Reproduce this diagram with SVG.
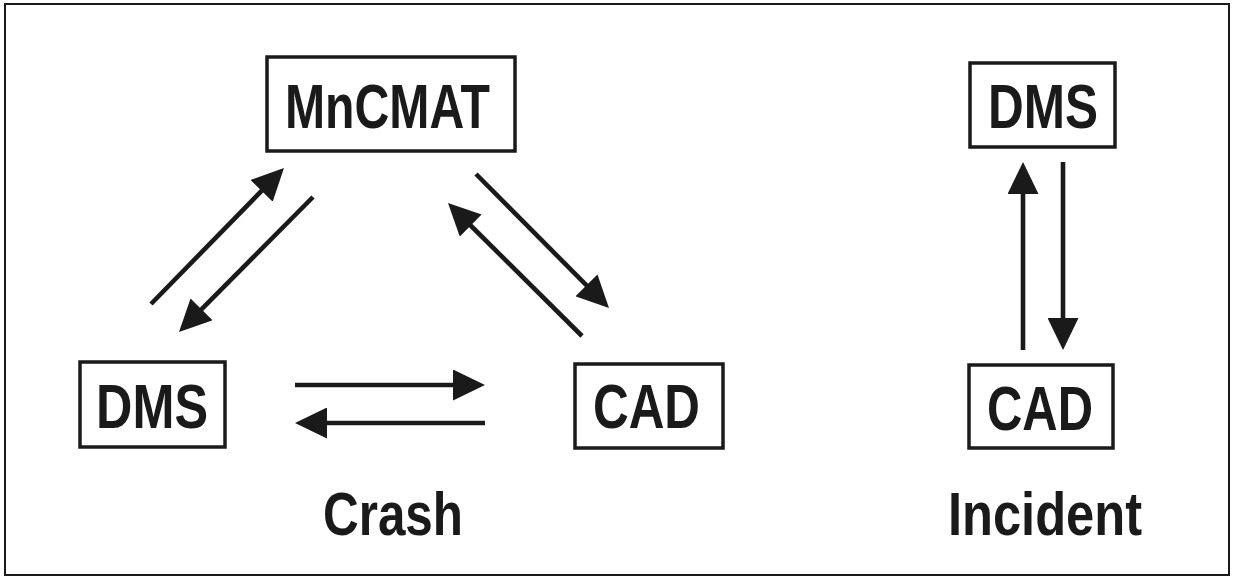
<svg xmlns="http://www.w3.org/2000/svg" width="1235" height="579" viewBox="0 0 1235 579">
<style>
.box{fill:#fff;stroke:#1a1a1a;stroke-width:3.5}
.lbl{font-family:"Liberation Sans",Arial,sans-serif;font-weight:bold;font-size:63px;fill:#1a1a1a;text-anchor:middle}
.cap{font-family:"Liberation Sans",Arial,sans-serif;font-weight:bold;font-size:61px;fill:#1a1a1a;text-anchor:middle}
.conn{stroke:#1a1a1a;stroke-width:4.6;fill:none;marker-end:url(#ah)}
</style>
<defs>
<marker id="ah" markerUnits="userSpaceOnUse" markerWidth="32" markerHeight="31" refX="10" refY="15.5" orient="auto" viewBox="0 0 32 31">
<path d="M0,0 L32,15.5 L0,31 z" fill="#1a1a1a"/>
</marker>
</defs>
<rect x="0" y="0" width="1235" height="579" fill="#fff"/>
<rect x="5" y="4" width="1224" height="571" fill="none" stroke="#1a1a1a" stroke-width="2"/>
<g id="connectors">
<line class="conn" x1="151" y1="304" x2="268.6" y2="183.7"/>
<line class="conn" x1="313" y1="197" x2="194.5" y2="316.4"/>
<line class="conn" x1="476" y1="174" x2="593.5" y2="292.4"/>
<line class="conn" x1="582" y1="336" x2="463.6" y2="218.5"/>
<line class="conn" x1="295" y1="385" x2="463" y2="385"/>
<line class="conn" x1="485" y1="423" x2="317" y2="423"/>
<line class="conn" x1="1023" y1="350" x2="1023" y2="184"/>
<line class="conn" x1="1063" y1="162" x2="1063" y2="328"/>
</g>
<g id="node-mncmat">
<rect class="box" x="267" y="57" width="248" height="94"/>
<text class="lbl" x="387.5" y="128" font-size="64" textLength="205" lengthAdjust="spacingAndGlyphs">MnCMAT</text>
</g>
<g id="node-dms-crash">
<rect class="box" x="80" y="362" width="145" height="85"/>
<text class="lbl" x="152" y="428" textLength="112" lengthAdjust="spacingAndGlyphs">DMS</text>
</g>
<g id="node-cad-crash">
<rect class="box" x="575" y="364" width="148" height="84"/>
<text class="lbl" x="646.5" y="428" textLength="107" lengthAdjust="spacingAndGlyphs">CAD</text>
</g>
<g id="node-dms-incident">
<rect class="box" x="970" y="63" width="145" height="84"/>
<text class="lbl" x="1043" y="128" textLength="110" lengthAdjust="spacingAndGlyphs">DMS</text>
</g>
<g id="node-cad-incident">
<rect class="box" x="969" y="365" width="144" height="83"/>
<text class="lbl" x="1040" y="430" textLength="106" lengthAdjust="spacingAndGlyphs">CAD</text>
</g>
<g id="caption-crash">
<text class="cap" x="393" y="535" font-size="60" textLength="140" lengthAdjust="spacingAndGlyphs">Crash</text>
</g>
<g id="caption-incident">
<text class="cap" x="1045" y="535" font-size="62" textLength="194" lengthAdjust="spacingAndGlyphs">Incident</text>
</g>
</svg>
